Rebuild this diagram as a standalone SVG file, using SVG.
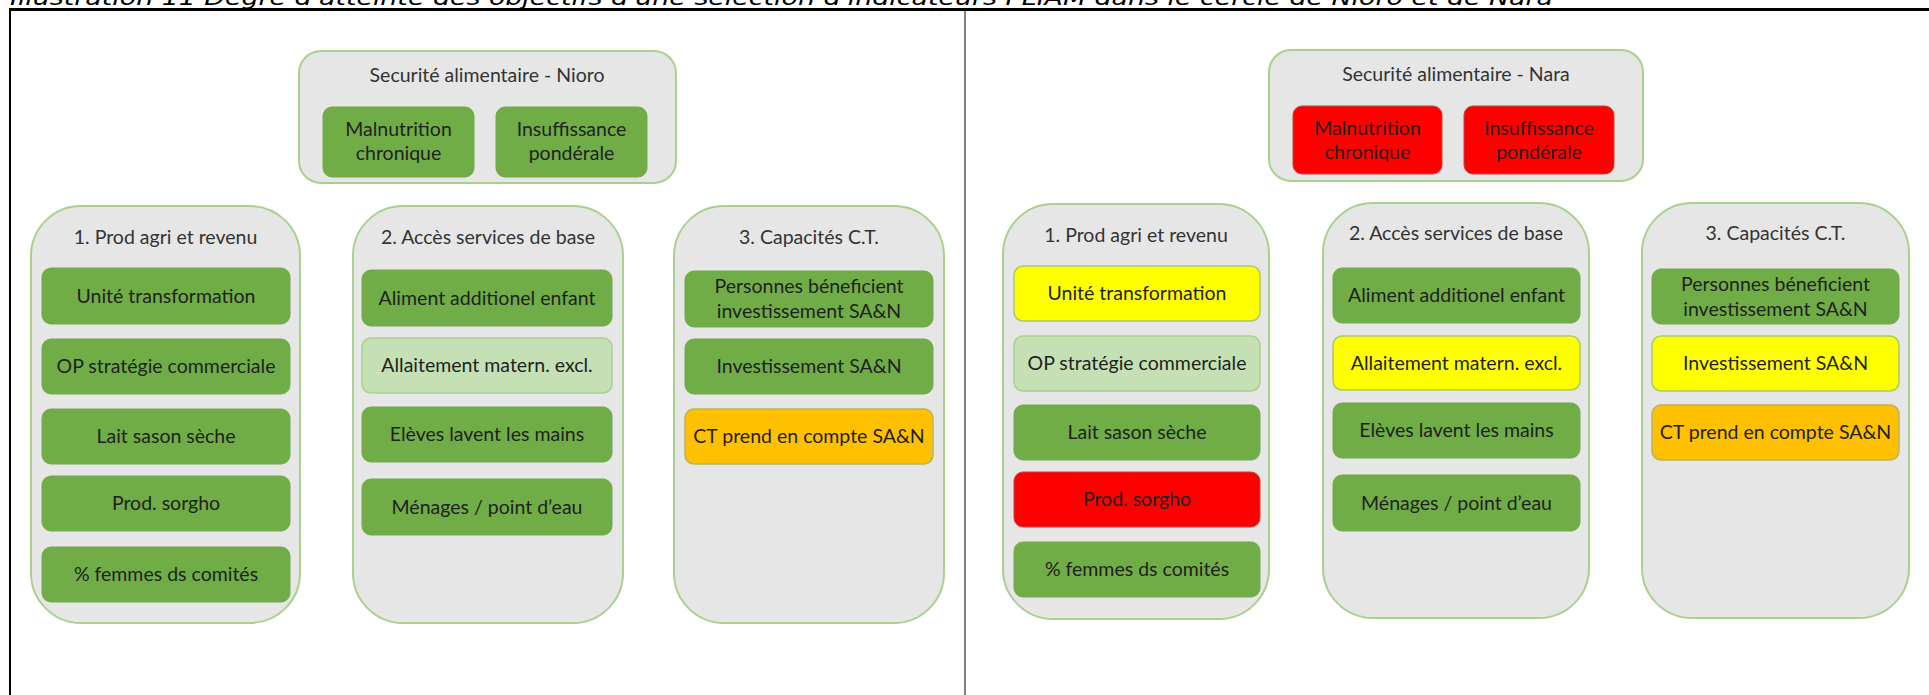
<svg xmlns="http://www.w3.org/2000/svg" width="1929" height="695" viewBox="0 0 1929 695">
<style>
.frame{stroke:#000;fill:none}
.cont{fill:#e6e6e6;stroke:#a9d18e;stroke-width:2}
.g{fill:#70ad47;stroke:#72a84e;stroke-width:1}
.lg{fill:#c5e0b4;stroke:#a9d18e;stroke-width:1.5}
.y{fill:#ffff00;stroke:#a9c96a;stroke-width:1.5}
.o{fill:#ffc000;stroke:#b8b55c;stroke-width:1.5}
.r{fill:#ff0000;stroke:#b84a3a;stroke-width:1}
text{font-family:Lato,"Liberation Sans",sans-serif;font-size:19.5px;text-anchor:middle}
.t{fill:#333}
.i{fill:#1f1f1f}
.cap{font-family:"DejaVu Sans",Verdana,sans-serif;font-style:italic;font-size:21px;text-anchor:start;fill:#000}
</style>
<text class="cap" x="10" y="5" textLength="1543" lengthAdjust="spacingAndGlyphs">Illustration 11 Degré d'atteinte des objectifs d'une sélection d'indicateurs PLIAM dans le cercle de Nioro et de Nara</text>
<g id="frame">
<line class="frame" x1="9" y1="9.5" x2="1929" y2="9.5" stroke-width="3"/>
<line class="frame" x1="10" y1="9" x2="10" y2="695" stroke-width="2"/>
<line class="frame" x1="965" y1="10" x2="965" y2="695" stroke-width="1"/>
</g>
<g id="connectors"></g>

<!-- Nioro panel -->
<g id="nioro-top">
<rect class="cont" x="299" y="51" width="377" height="132" rx="22"/>
<text class="t" x="487" y="82">Securité alimentaire - Nioro</text>
</g>
<g id="nioro-malnutrition">
<rect class="g" x="323" y="107" width="151" height="70" rx="9"/>
<text class="i" x="398.5" y="136">Malnutrition</text>
<text class="i" x="398.5" y="160">chronique</text>
</g>
<g id="nioro-insuffisance">
<rect class="g" x="496" y="107" width="151" height="70" rx="9"/>
<text class="i" x="571.5" y="136">Insuffissance</text>
<text class="i" x="571.5" y="160">pondérale</text>
</g>

<g id="nioro-col1">
<rect class="cont" x="31" y="206" width="269" height="417" rx="50"/>
<text class="t" x="165.5" y="244">1. Prod agri et revenu</text>
</g>
<g id="nioro-c1-1"><rect class="g" x="42" y="268" width="248" height="56" rx="9"/><text class="i" x="166" y="303">Unité transformation</text></g>
<g id="nioro-c1-2"><rect class="g" x="42" y="339" width="248" height="55" rx="9"/><text class="i" x="166" y="373">OP stratégie commerciale</text></g>
<g id="nioro-c1-3"><rect class="g" x="42" y="409" width="248" height="55" rx="9"/><text class="i" x="166" y="443">Lait sason sèche</text></g>
<g id="nioro-c1-4"><rect class="g" x="42" y="476" width="248" height="55" rx="9"/><text class="i" x="166" y="510">Prod. sorgho</text></g>
<g id="nioro-c1-5"><rect class="g" x="42" y="547" width="248" height="55" rx="9"/><text class="i" x="166" y="581">% femmes ds comités</text></g>

<g id="nioro-col2">
<rect class="cont" x="353" y="206" width="270" height="417" rx="50"/>
<text class="t" x="488" y="244">2. Accès services de base</text>
</g>
<g id="nioro-c2-1"><rect class="g" x="362" y="270" width="250" height="56" rx="9"/><text class="i" x="487" y="305">Aliment additionel enfant</text></g>
<g id="nioro-c2-2"><rect class="lg" x="362" y="338" width="250" height="55" rx="9"/><text class="i" x="487" y="372">Allaitement matern. excl.</text></g>
<g id="nioro-c2-3"><rect class="g" x="362" y="407" width="250" height="55" rx="9"/><text class="i" x="487" y="441">Elèves lavent les mains</text></g>
<g id="nioro-c2-4"><rect class="g" x="362" y="479" width="250" height="56" rx="9"/><text class="i" x="487" y="514">Ménages / point d’eau</text></g>

<g id="nioro-col3">
<rect class="cont" x="674" y="206" width="270" height="417" rx="50"/>
<text class="t" x="809" y="244">3. Capacités C.T.</text>
</g>
<g id="nioro-c3-1"><rect class="g" x="685" y="271" width="248" height="56" rx="9"/><text class="i" x="809" y="293">Personnes béneficient</text><text class="i" x="809" y="318">investissement SA&amp;N</text></g>
<g id="nioro-c3-2"><rect class="g" x="685" y="339" width="248" height="55" rx="9"/><text class="i" x="809" y="373">Investissement SA&amp;N</text></g>
<g id="nioro-c3-3"><rect class="o" x="685" y="409" width="248" height="55" rx="9"/><text class="i" x="809" y="443">CT prend en compte SA&amp;N</text></g>

<!-- Nara panel -->
<g id="nara-top">
<rect class="cont" x="1269" y="50" width="374" height="131" rx="22"/>
<text class="t" x="1456" y="81">Securité alimentaire - Nara</text>
</g>
<g id="nara-malnutrition">
<rect class="r" x="1293" y="106" width="149" height="68" rx="9"/>
<text class="i" x="1367.5" y="135">Malnutrition</text>
<text class="i" x="1367.5" y="159">chronique</text>
</g>
<g id="nara-insuffisance">
<rect class="r" x="1464" y="106" width="150" height="68" rx="9"/>
<text class="i" x="1539" y="135">Insuffissance</text>
<text class="i" x="1539" y="159">pondérale</text>
</g>

<g id="nara-col1">
<rect class="cont" x="1003" y="204" width="266" height="415" rx="50"/>
<text class="t" x="1136" y="242">1. Prod agri et revenu</text>
</g>
<g id="nara-c1-1"><rect class="y" x="1014" y="266" width="246" height="55" rx="9"/><text class="i" x="1137" y="300">Unité transformation</text></g>
<g id="nara-c1-2"><rect class="lg" x="1014" y="336" width="246" height="55" rx="9"/><text class="i" x="1137" y="370">OP stratégie commerciale</text></g>
<g id="nara-c1-3"><rect class="g" x="1014" y="405" width="246" height="55" rx="9"/><text class="i" x="1137" y="439">Lait sason sèche</text></g>
<g id="nara-c1-4"><rect class="r" x="1014" y="472" width="246" height="55" rx="9"/><text class="i" x="1137" y="506">Prod. sorgho</text></g>
<g id="nara-c1-5"><rect class="g" x="1014" y="542" width="246" height="55" rx="9"/><text class="i" x="1137" y="576">% femmes ds comités</text></g>

<g id="nara-col2">
<rect class="cont" x="1323" y="203" width="266" height="415" rx="50"/>
<text class="t" x="1456" y="240">2. Accès services de base</text>
</g>
<g id="nara-c2-1"><rect class="g" x="1333" y="268" width="247" height="55" rx="9"/><text class="i" x="1456.5" y="302">Aliment additionel enfant</text></g>
<g id="nara-c2-2"><rect class="y" x="1333" y="336" width="247" height="54" rx="9"/><text class="i" x="1456.5" y="370">Allaitement matern. excl.</text></g>
<g id="nara-c2-3"><rect class="g" x="1333" y="403" width="247" height="55" rx="9"/><text class="i" x="1456.5" y="437">Elèves lavent les mains</text></g>
<g id="nara-c2-4"><rect class="g" x="1333" y="475" width="247" height="56" rx="9"/><text class="i" x="1456.5" y="510">Ménages / point d’eau</text></g>

<g id="nara-col3">
<rect class="cont" x="1642" y="203" width="267" height="415" rx="50"/>
<text class="t" x="1775.5" y="240">3. Capacités C.T.</text>
</g>
<g id="nara-c3-1"><rect class="g" x="1652" y="269" width="247" height="55" rx="9"/><text class="i" x="1775.5" y="291">Personnes béneficient</text><text class="i" x="1775.5" y="316">investissement SA&amp;N</text></g>
<g id="nara-c3-2"><rect class="y" x="1652" y="336" width="247" height="55" rx="9"/><text class="i" x="1775.5" y="370">Investissement SA&amp;N</text></g>
<g id="nara-c3-3"><rect class="o" x="1652" y="405" width="247" height="55" rx="9"/><text class="i" x="1775.5" y="439">CT prend en compte SA&amp;N</text></g>
</svg>
